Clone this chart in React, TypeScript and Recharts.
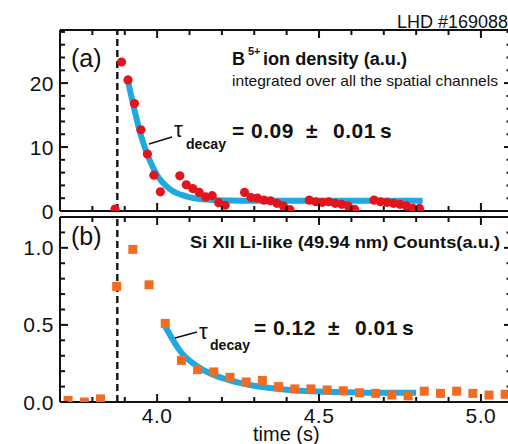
import React from "react";
import { ComposedChart, Scatter, Line, XAxis, YAxis, ReferenceLine } from "recharts";

const FONT = "'Liberation Sans', Arial, Helvetica, sans-serif";
const INK = "#111111";
const RED = "#e3141c";
const ORANGE = "#f26b21";
const BLUE = "#22a8e1";

// axes
const T_MIN = 3.7;
const T_MAX = 5.0867;
const T_RISE = 3.877;
const xTicks = [3.8, 3.9, 4.0, 4.1, 4.2, 4.3, 4.4, 4.5, 4.6, 4.7, 4.8, 4.9, 5.0];
const xLabels = [4.0, 4.5, 5.0];
const yTicksA = [0, 2, 4, 6, 8, 10, 12, 14, 16, 18, 20, 22, 24, 26, 28];
const yLabelsA = [0, 10, 20];
const yTicksB = [0, 0.1, 0.2, 0.3, 0.4, 0.5, 0.6, 0.7, 0.8, 0.9, 1.0, 1.1];
const yLabelsB = [0, 0.5, 1.0];

// (a) B5+ ion density
const boronTime = [
  3.87, 3.89, 3.91, 3.93, 3.95, 3.97, 3.99, 4.01,
  4.07, 4.09, 4.11, 4.13, 4.15, 4.17, 4.19, 4.21,
  4.27, 4.29, 4.31, 4.33, 4.35, 4.37, 4.39, 4.41,
  4.47, 4.49, 4.51, 4.53, 4.55, 4.57, 4.59, 4.61,
  4.67, 4.69, 4.71, 4.73, 4.75, 4.77, 4.79, 4.81,
];
const boronDensity = [
  0.3, 23.3, 20.5, 16.8, 12.7, 8.9, 5.6, 3.0,
  5.5, 4.1, 3.5, 2.9, 2.2, 2.4, 1.3, 0.9,
  2.9, 2.1, 2.0, 1.7, 1.6, 1.2, 0.8, 0.2,
  1.7, 1.45, 1.35, 1.45, 1.2, 1.05, 0.8, 0.25,
  1.7, 1.45, 1.35, 1.2, 1.05, 0.8, 0.4, 0.4,
];
const boronFitTime = [3.91, 3.93, 3.95, 3.975, 4.0, 4.04, 4.09, 4.15, 4.22, 4.3, 4.5, 4.82];
const boronFit = [20.3, 15.8, 11.8, 8.2, 5.6, 3.4, 2.3, 1.8, 1.65, 1.6, 1.6, 1.6];

// (b) Si XII counts
const siTime = [
  3.725, 3.775, 3.825, 3.875, 3.925, 3.975, 4.025, 4.075, 4.125, 4.175,
  4.225, 4.275, 4.325, 4.375, 4.425, 4.475, 4.525, 4.575, 4.625, 4.675,
  4.725, 4.775, 4.825, 4.875, 4.925, 4.975, 5.025, 5.075,
];
const siCounts = [
  0.01, 0.0, 0.02, 0.75, 0.99, 0.76, 0.51, 0.27, 0.21, 0.195,
  0.16, 0.13, 0.14, 0.1, 0.085, 0.085, 0.078, 0.073, 0.06, 0.056,
  0.045, 0.04, 0.07, 0.056, 0.07, 0.056, 0.045, 0.05,
];
const siFitTime = [4.025, 4.075, 4.125, 4.175, 4.225, 4.3, 4.4, 4.5, 4.6, 4.7, 4.8];
const siFit = [0.49, 0.32, 0.23, 0.175, 0.14, 0.105, 0.08, 0.068, 0.063, 0.06, 0.06];

const zip = (t: number[], v: number[]) => t.map((x, i) => ({ t: x, v: v[i] }));
const near = (a: number, list: number[]) => list.some((b) => Math.abs(a - b) < 1e-6);
const isMajorT = (v: number) => Math.abs(v * 2 - Math.round(v * 2)) < 1e-6;

const XTick = (p: any) => {
  const { x, y, payload, dir, labels } = p;
  const len = isMajorT(payload.value) ? 8 : 5;
  return (
    <g>
      <line x1={x} x2={x} y1={y} y2={y + dir * len} stroke={INK} strokeWidth={2} />
      {labels && near(payload.value, xLabels) && (
        <text x={x} y={y + 21} textAnchor="middle" fontSize={21} fontFamily={FONT} fill={INK} letterSpacing={0.5}>
          {payload.value.toFixed(1)}
        </text>
      )}
    </g>
  );
};

const YTick = (p: any) => {
  const { x, y, payload, dir, labels, majors, digits } = p;
  const major = near(payload.value, majors);
  const len = dir > 0 ? (major ? 8 : 5) : major ? 5 : 2.5;
  return (
    <g>
      <line x1={x} x2={x + dir * len} y1={y} y2={y} stroke={INK} strokeWidth={2} />
      {labels && major && (
        <text x={x - 6} y={y} dy="0.36em" textAnchor="end" fontSize={21} fontFamily={FONT} fill={INK} letterSpacing={0.5}>
          {payload.value.toFixed(digits)}
        </text>
      )}
    </g>
  );
};

const RedDot = (p: any) => <circle cx={p.cx} cy={p.cy} r={4.6} fill={RED} />;
const OrangeSquare = (p: any) => <rect x={p.cx - 4.5} y={p.cy - 4.5} width={9} height={9} fill={ORANGE} />;

const frame = { stroke: INK, strokeWidth: 2 };

type PanelProps = {
  height: number;
  margin: { top: number; right: number; bottom: number; left: number };
  yMax: number;
  yTicks: number[];
  yMajors: number[];
  digits: number;
  xLabelsOn: boolean;
  children: React.ReactNode;
};

function Panel({ height, margin, yMax, yTicks, yMajors, digits, xLabelsOn, children }: PanelProps) {
  return (
    <div style={{ position: "absolute", left: 0, top: 0 }}>
      <ComposedChart width={510} height={height} margin={margin}>
        <XAxis xAxisId="b" orientation="bottom" dataKey="t" type="number" domain={[T_MIN, T_MAX]} allowDataOverflow
          ticks={xTicks} interval={0} height={1} tickLine={false} tickSize={0} tickMargin={0} axisLine={frame}
          tick={(p: any) => <XTick {...p} dir={-1} labels={xLabelsOn} />} />
        <XAxis xAxisId="t" orientation="top" dataKey="t" type="number" domain={[T_MIN, T_MAX]} allowDataOverflow
          ticks={xTicks} interval={0} height={1} tickLine={false} tickSize={0} tickMargin={0} axisLine={frame}
          tick={(p: any) => <XTick {...p} dir={1} labels={false} />} />
        <YAxis yAxisId="l" orientation="left" type="number" domain={[0, yMax]} allowDataOverflow
          ticks={yTicks} interval={0} width={1} tickLine={false} tickSize={0} tickMargin={0} axisLine={frame}
          tick={(p: any) => <YTick {...p} dir={1} labels majors={yMajors} digits={digits} />} />
        <YAxis yAxisId="r" orientation="right" type="number" domain={[0, yMax]} allowDataOverflow
          ticks={yTicks} interval={0} width={1} tickLine={false} tickSize={0} tickMargin={0} axisLine={frame}
          tick={(p: any) => <YTick {...p} dir={-1} labels={false} majors={yMajors} digits={digits} />} />
        <ReferenceLine xAxisId="b" yAxisId="l" x={T_RISE} stroke={INK} strokeWidth={2.4} strokeDasharray="7 4" />
        {children}
      </ComposedChart>
    </div>
  );
}

export default function App() {
  const txt = { fontFamily: FONT, fill: INK };
  const big = { ...txt, fontSize: 21, fontWeight: "bold" as const, letterSpacing: 0.5 };
  return (
    <div style={{ position: "absolute", left: 0, top: 0, width: 508, height: 444, overflow: "hidden", background: "#fff" }}>
      <Panel height={230} margin={{ top: 29, right: 0, bottom: 18, left: 59 }} yMax={28.3}
        yTicks={yTicksA} yMajors={yLabelsA} digits={0} xLabelsOn={false}>
        <Line xAxisId="b" yAxisId="l" data={zip(boronFitTime, boronFit)} dataKey="v" type="monotone"
          stroke={BLUE} strokeWidth={6} dot={false} isAnimationActive={false} />
        <Scatter xAxisId="b" yAxisId="l" data={zip(boronTime, boronDensity)} dataKey="v"
          shape={RedDot} isAnimationActive={false} />
      </Panel>
      <Panel height={444} margin={{ top: 216, right: 0, bottom: 41, left: 59 }} yMax={1.2}
        yTicks={yTicksB} yMajors={yLabelsB} digits={1} xLabelsOn>
        <Line xAxisId="b" yAxisId="l" data={zip(siFitTime, siFit)} dataKey="v" type="monotone"
          stroke={BLUE} strokeWidth={6} dot={false} isAnimationActive={false} />
        <Scatter xAxisId="b" yAxisId="l" data={zip(siTime, siCounts)} dataKey="v"
          shape={OrangeSquare} isAnimationActive={false} />
      </Panel>

      <svg width={508} height={444} style={{ position: "absolute", left: 0, top: 0, pointerEvents: "none" }}>
        <text x={397} y={28} fontSize={18} {...txt}>LHD #169088</text>

        {/* panel (a) */}
        <text x={71} y={67} fontSize={25} {...txt}>(a)</text>
        <text y={65} fontWeight="bold" fontSize={18} {...txt}>
          <tspan x={232}>B</tspan>
          <tspan x={248} y={55} fontSize={11}>5+</tspan>
          <tspan x={263} y={65} textLength={144} lengthAdjust="spacingAndGlyphs">ion density (a.u.)</tspan>
        </text>
        <text x={232} y={86} fontSize={15} textLength={266} lengthAdjust="spacingAndGlyphs" {...txt}>
          integrated over all the spatial channels
        </text>
        <line x1={149} y1={144} x2={172} y2={137} stroke={INK} strokeWidth={1.6} />
        <text x={174} y={137} fontSize={22} {...txt}>τ</text>
        <text x={186} y={149} fontSize={15} fontWeight="bold" textLength={40} lengthAdjust="spacingAndGlyphs" {...txt}>decay</text>
        <text x={232} y={138} {...big}>=</text>
        <text x={251} y={138} {...big}>0.09</text>
        <text x={312} y={138} textAnchor="middle" {...big}>±</text>
        <text x={333} y={138} {...big}>0.01</text>
        <text x={380} y={138} {...big}>s</text>

        {/* panel (b) */}
        <text x={71} y={245} fontSize={25} {...txt}>(b)</text>
        <text x={190} y={248} fontSize={16} fontWeight="bold" textLength={310} lengthAdjust="spacingAndGlyphs" {...txt}>
          Si XII Li-like (49.94 nm) Counts(a.u.)
        </text>
        <line x1={175} y1={338} x2={197} y2={332} stroke={INK} strokeWidth={1.6} />
        <text x={199} y={339} fontSize={22} {...txt}>τ</text>
        <text x={210} y={350} fontSize={15} fontWeight="bold" textLength={40} lengthAdjust="spacingAndGlyphs" {...txt}>decay</text>
        <text x={254} y={335} {...big}>=</text>
        <text x={273} y={335} {...big}>0.12</text>
        <text x={334} y={335} textAnchor="middle" {...big}>±</text>
        <text x={355} y={335} {...big}>0.01</text>
        <text x={402} y={335} {...big}>s</text>

        <text x={253} y={441} fontSize={20} {...txt}>time (s)</text>
      </svg>
    </div>
  );
}
